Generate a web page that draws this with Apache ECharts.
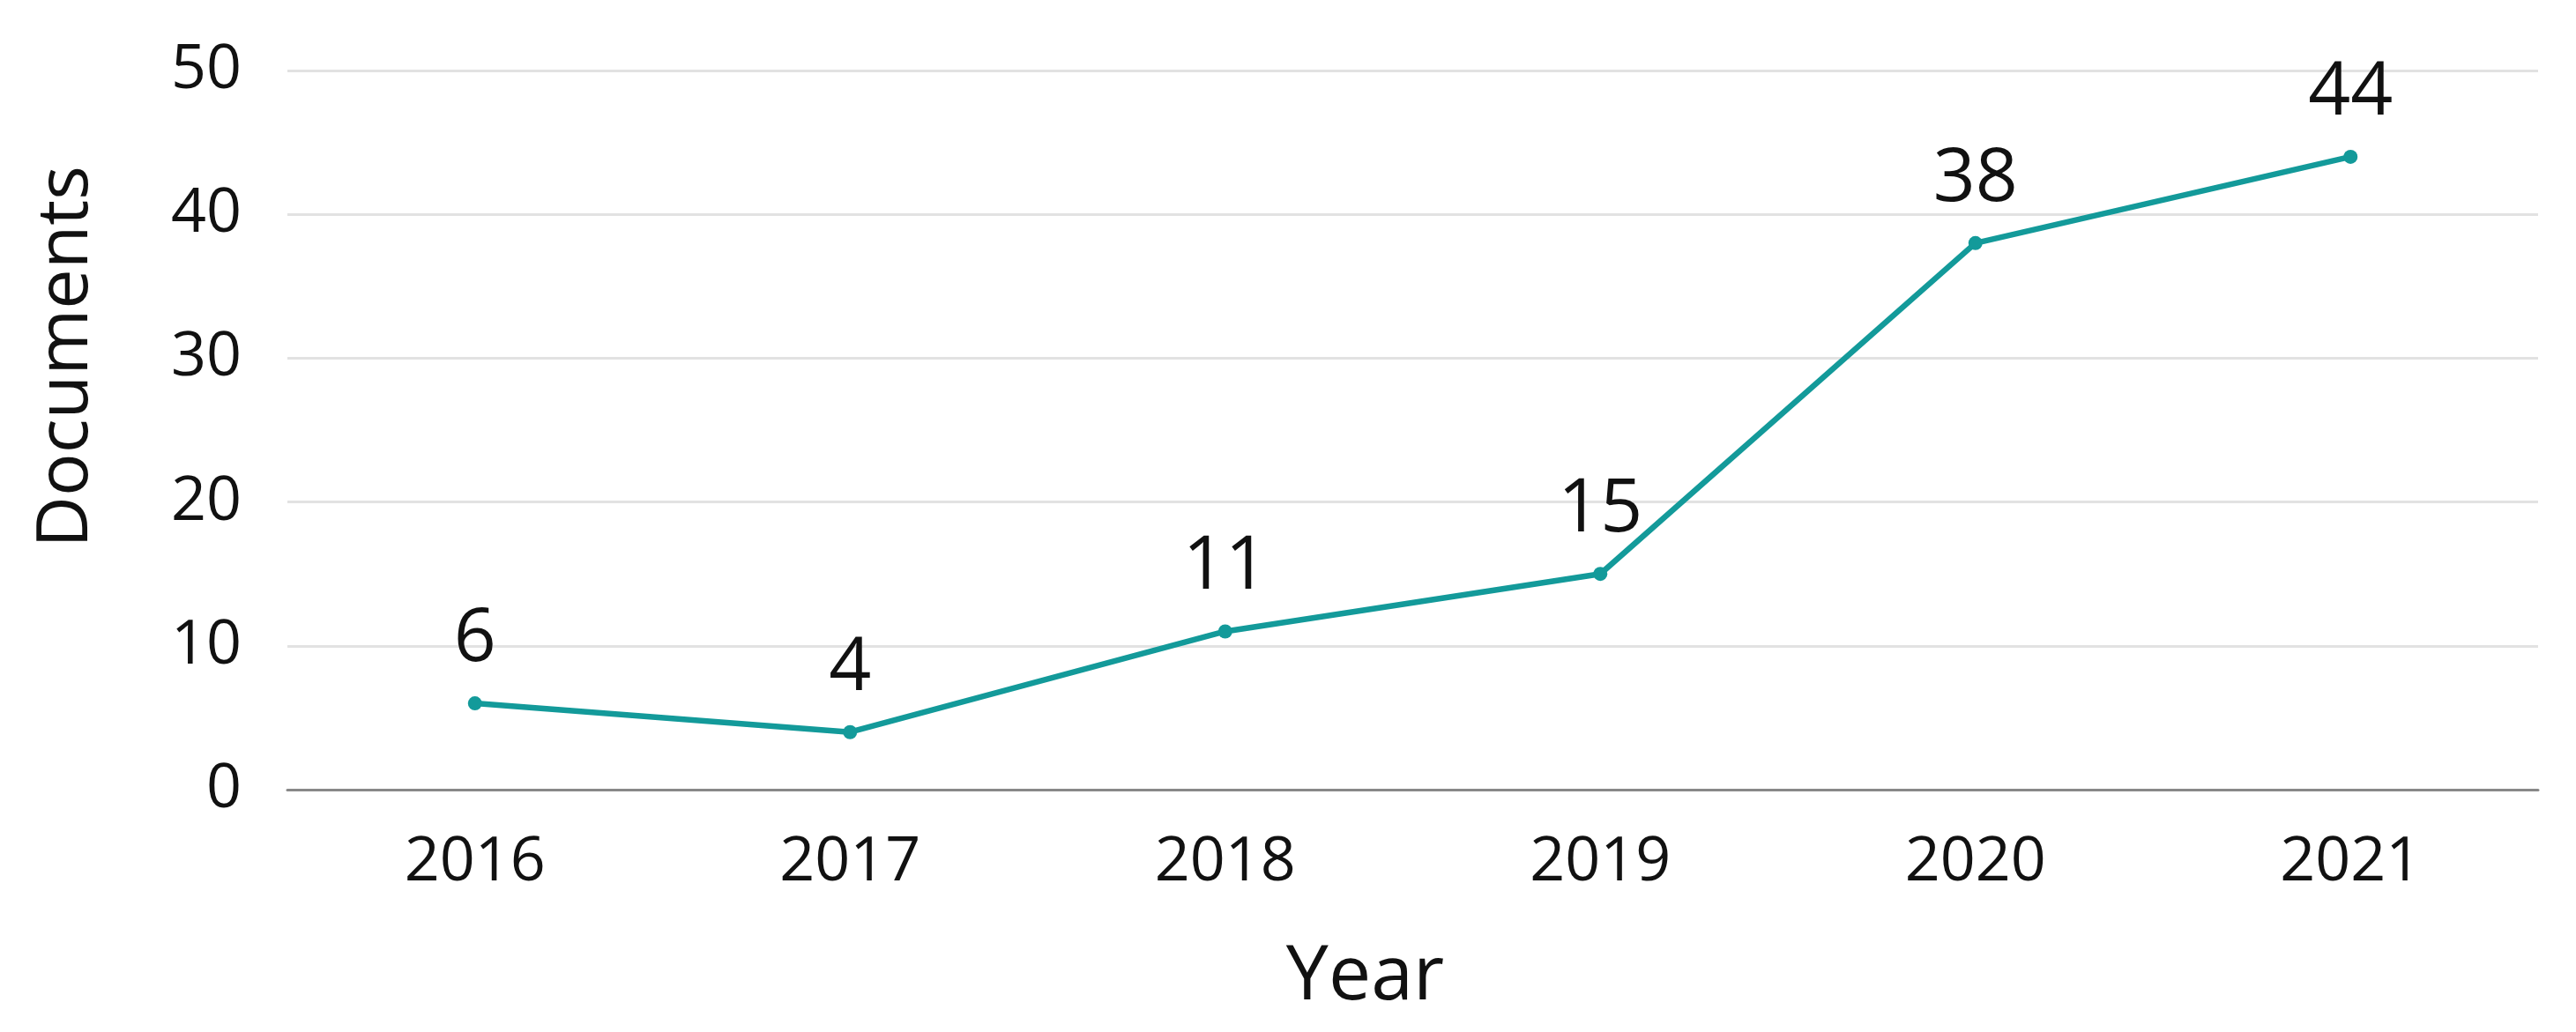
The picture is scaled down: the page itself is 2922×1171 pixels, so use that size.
<!DOCTYPE html>
<html><head><meta charset="utf-8">
<script src="https://cdn.jsdelivr.net/npm/echarts@6/dist/echarts.min.js"></script>
<style>html,body{margin:0;padding:0;background:#fff;}#c{width:2922px;height:1171px;}</style>
</head><body><div id="c"></div>
<script>
const years = ['2016','2017','2018','2019','2020','2021'];
const documents = [6, 4, 11, 15, 38, 44];
const yMin = 0, yMax = 50, yStep = 10;

const chart = echarts.init(document.getElementById('c'));
const font = '"Open Sans", sans-serif';
chart.setOption({
  animation: false,
  backgroundColor: '#ffffff',
  grid: {left: 326, right: 43, top: 80, bottom: 275},
  xAxis: {
    type: 'category', data: years, boundaryGap: true,
    name: 'Year', nameLocation: 'middle', nameGap: 170,
    nameTextStyle: {fontFamily: font, fontSize: 86, color: '#111', padding: [0, 108, 0, 0]},
    axisLine: {lineStyle: {color: '#888', width: 3}},
    axisTick: {show: false},
    axisLabel: {fontFamily: font, fontSize: 70, color: '#111', margin: 48}
  },
  yAxis: {
    type: 'value', min: yMin, max: yMax, interval: yStep,
    name: 'Documents', nameLocation: 'middle', nameGap: 210,
    nameTextStyle: {fontFamily: font, fontSize: 81, color: '#111', padding: [0, 0, 0, 166]},
    axisLine: {show: false}, axisTick: {show: false},
    splitLine: {lineStyle: {color: '#e2e2e2', width: 3}},
    axisLabel: {fontFamily: font, fontSize: 70, color: '#111', margin: 52}
  },
  series: [{
    type: 'line', data: documents,
    symbol: 'circle', symbolSize: 16,
    lineStyle: {color: '#139a9a', width: 6.5},
    itemStyle: {color: '#139a9a'},
    label: {show: true, position: 'top', distance: 22, fontFamily: font, fontSize: 84, color: '#111'}
  }]
});
</script></body></html>
